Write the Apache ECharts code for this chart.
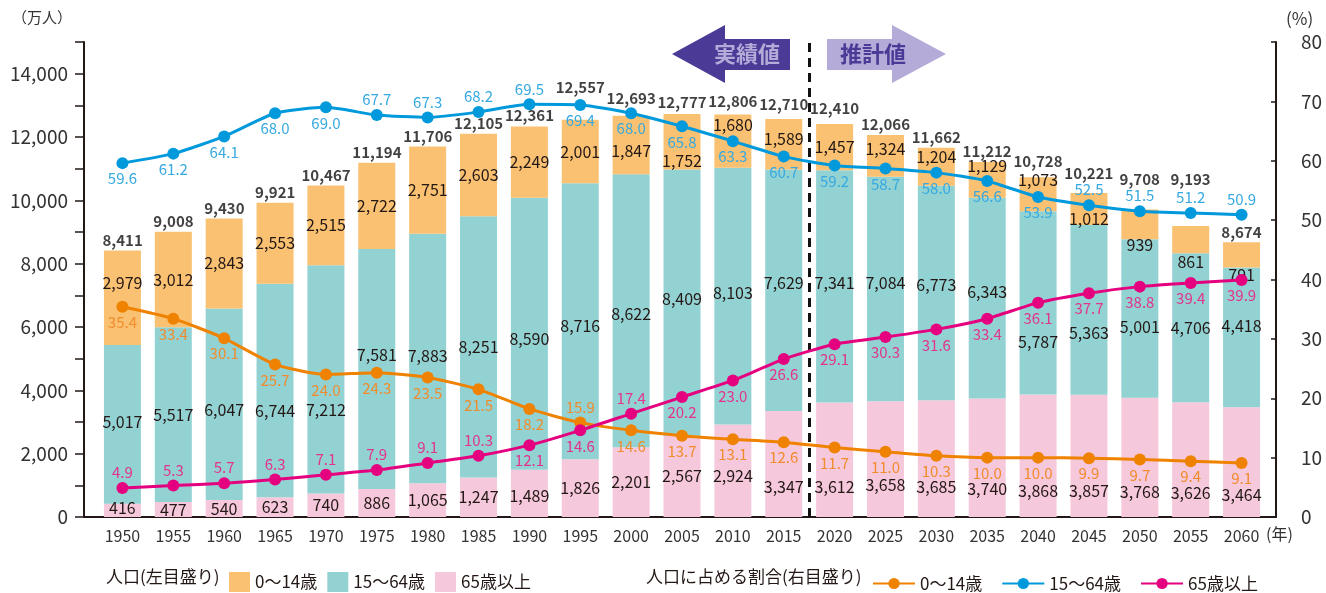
<!DOCTYPE html>
<html>
<head>
<meta charset="utf-8">
<style>
  html, body { margin: 0; padding: 0; background: #fff; }
  #chart { width: 1326px; height: 593px; }
</style>
<script src="https://cdn.jsdelivr.net/npm/echarts/dist/echarts.min.js"></script>
</head>
<body>
<div id="chart"></div>
<script>
// 年
const years = [1950, 1955, 1960, 1965, 1970, 1975, 1980, 1985, 1990, 1995, 2000, 2005,
  2010, 2015, 2020, 2025, 2030, 2035, 2040, 2045, 2050, 2055, 2060];

// 人口（万人）
const pop0to14 = [2979, 3012, 2843, 2553, 2515, 2722, 2751, 2603, 2249, 2001, 1847, 1752,
  1680, 1589, 1457, 1324, 1204, 1129, 1073, 1012, 939, 861, 791];
const pop15to64 = [5017, 5517, 6047, 6744, 7212, 7581, 7883, 8251, 8590, 8716, 8622, 8409,
  8103, 7629, 7341, 7084, 6773, 6343, 5787, 5363, 5001, 4706, 4418];
const pop65plus = [416, 477, 540, 623, 740, 886, 1065, 1247, 1489, 1826, 2201, 2567,
  2924, 3347, 3612, 3658, 3685, 3740, 3868, 3857, 3768, 3626, 3464];
const popTotal = [8411, 9008, 9430, 9921, 10467, 11194, 11706, 12105, 12361, 12557, 12693, 12777,
  12806, 12710, 12410, 12066, 11662, 11212, 10728, 10221, 9708, 9193, 8674];

// 人口に占める割合（%）
const ratio0to14 = [35.4, 33.4, 30.1, 25.7, 24.0, 24.3, 23.5, 21.5, 18.2, 15.9, 14.6, 13.7,
  13.1, 12.6, 11.7, 11.0, 10.3, 10.0, 10.0, 9.9, 9.7, 9.4, 9.1];
const ratio15to64 = [59.6, 61.2, 64.1, 68.0, 69.0, 67.7, 67.3, 68.2, 69.5, 69.4, 68.0, 65.8,
  63.3, 60.7, 59.2, 58.7, 58.0, 56.6, 53.9, 52.5, 51.5, 51.2, 50.9];
const ratio65plus = [4.9, 5.3, 5.7, 6.3, 7.1, 7.9, 9.1, 10.3, 12.1, 14.6, 17.4, 20.2,
  23.0, 26.6, 29.1, 30.3, 31.6, 33.4, 36.1, 37.7, 38.8, 39.4, 39.9];

// label placement tweaks (px shift of labels, years whose ratio label sits above the point)
const shift0to14 = [-15, 0, 0, 0, 0, 0, 0, 0, 0, 0, 6, 19, -16, -5, 0, -7, -10, -14, -14, 10, 20, 22, 20];
const shift15to64 = [-2, 0, 6, 20, 31, -14, -3, 0, 5, 5, 3, -4, -3, -7, -3, -6, -8, -6, 39, 23, 8, 0, -11];
const shift65plus = [-2, 0, 0, 0, 0, 0, 0, 0, 2, 0, 0, 0, 5, 23, 27, 26, 28, 31, 35, 35, 35, 33, 33];
const shiftTotal = [0, 0, 0, 0, 0, 0, 0, 0, 0, -22, -6, 0, 0, 0, -5, 0, 0, 0, -5, -10, -20, -36, 0];
const above0to14 = [1995];
const above15to64 = [1975, 1980, 1985, 1990, 2045, 2050, 2055, 2060];
const above65plus = [1950, 1955, 1960, 1965, 1970, 1975, 1980, 1985, 2000];

const FONT = '"Noto Sans CJK JP", "Noto Sans", sans-serif';
const fmt = (v) => Number(v).toLocaleString('en-US');

const barSeries = (name, color, vals, shift) => ({
  name: name,
  type: 'bar',
  stack: 'pop',
  barWidth: 37,
  itemStyle: { color: color },
  label: {
    show: true,
    position: 'inside',
    color: '#231815',
    fontFamily: FONT,
    fontSize: 16,
    formatter: (p) => fmt(p.value)
  },
  data: vals.map((v, i) => ({ value: v, label: { offset: [0, shift[i]] } })),
  z: 2
});

const lineSeries = (name, color, labelColor, vals, above) => ({
  name: name,
  type: 'line',
  yAxisIndex: 1,
  smooth: 0.2,
  symbol: 'circle',
  symbolSize: 12,
  lineStyle: { color: color, width: 3 },
  itemStyle: { color: color },
  label: {
    show: true,
    distance: 2,
    color: labelColor,
    fontFamily: FONT,
    fontSize: 15,
    formatter: (p) => p.value.toFixed(1)
  },
  data: vals.map((v, i) => ({
    value: v,
    label: { position: above.includes(years[i]) ? 'top' : 'bottom' }
  })),
  z: 5
});

const chart = echarts.init(document.getElementById('chart'));
chart.setOption({
  animation: false,
  textStyle: { fontFamily: FONT },
  grid: [
    // bars and lines: category band
    { left: 97, right: 59, top: 42, bottom: 76 },
    // full frame: bottom axis line, totals, divider
    { left: 84, right: 50, top: 42, bottom: 76 }
  ],
  xAxis: [
    {
      type: 'category',
      gridIndex: 0,
      data: years.map(String),
      axisLine: { show: false },
      axisTick: { show: false },
      axisLabel: { margin: 11, color: '#333', fontSize: 16, fontFamily: FONT }
    },
    {
      type: 'value',
      gridIndex: 1,
      min: 1946.2,
      max: 2063.4,
      axisLine: { lineStyle: { color: '#231815', width: 2 } },
      axisTick: { show: false },
      axisLabel: { show: false },
      splitLine: { show: false }
    }
  ],
  yAxis: [
    {
      type: 'value',
      gridIndex: 0,
      min: 0,
      max: 15000,
      interval: 1000,
      offset: 13,
      axisLine: { show: true, lineStyle: { color: '#231815', width: 2 } },
      axisTick: { show: true, length: 9, lineStyle: { color: '#231815', width: 1.5 } },
      splitLine: { show: false },
      axisLabel: {
        margin: 16,
        color: '#333',
        fontSize: 19,
        fontFamily: FONT,
        formatter: (v) => (v % 2000 === 0 && v <= 14000 ? fmt(v) : '')
      }
    },
    {
      type: 'value',
      gridIndex: 0,
      min: 0,
      max: 80,
      interval: 10,
      position: 'right',
      offset: 9,
      axisLine: { show: true, lineStyle: { color: '#231815', width: 2 } },
      axisTick: { show: true, inside: true, length: 5, lineStyle: { color: '#231815', width: 1.5 } },
      splitLine: { show: false },
      axisLabel: { margin: 25, color: '#333', fontSize: 19, fontFamily: FONT }
    },
    {
      type: 'value',
      gridIndex: 1,
      min: 0,
      max: 15000,
      show: false
    }
  ],
  legend: [
    {
      data: ['人口:0～14歳', '人口:15～64歳', '人口:65歳以上'],
      left: 224,
      top: 567,
      icon: 'rect',
      itemWidth: 21,
      itemHeight: 20,
      itemGap: 10,
      selectedMode: false,
      textStyle: { fontSize: 17, color: '#231815', fontFamily: FONT },
      formatter: (n) => n.split(':')[1]
    },
    {
      data: ['割合:0～14歳', '割合:15～64歳', '割合:65歳以上'],
      left: 867,
      top: 570,
      itemWidth: 42,
      itemHeight: 14,
      itemGap: 19,
      selectedMode: false,
      textStyle: { fontSize: 17, color: '#231815', fontFamily: FONT },
      formatter: (n) => n.split(':')[1]
    }
  ],
  graphic: [
    { type: 'text', left: 12, top: 10, style: { text: '（万人）', fontSize: 15, fill: '#333', fontFamily: FONT } },
    { type: 'text', left: 1286, top: 10, style: { text: '(%)', fontSize: 17, fill: '#333', fontFamily: FONT } },
    { type: 'text', left: 1266, top: 526, style: { text: '(年)', fontSize: 16, fill: '#333', fontFamily: FONT } },
    { type: 'text', left: 106, top: 568, style: { text: '人口(左目盛り)', fontSize: 17, fill: '#231815', fontFamily: FONT } },
    { type: 'text', left: 646, top: 568, style: { text: '人口に占める割合(右目盛り)', fontSize: 17, fill: '#231815', fontFamily: FONT } },
    {
      type: 'polygon',
      shape: { points: [[672, 54], [725, 25], [725, 39], [790, 39], [790, 70], [725, 70], [725, 83]] },
      style: { fill: '#4b3b96' }
    },
    {
      type: 'polygon',
      shape: { points: [[827, 39], [892, 39], [892, 25], [946, 54], [892, 83], [892, 70], [827, 70]] },
      style: { fill: '#b4abd9' }
    },
    {
      type: 'text', x: 747, y: 54,
      style: { text: '実績値', fontSize: 22, fontWeight: 'bold', fill: '#b4abd9', fontFamily: FONT, align: 'center', verticalAlign: 'middle' }
    },
    {
      type: 'text', x: 873, y: 54,
      style: { text: '推計値', fontSize: 22, fontWeight: 'bold', fill: '#4b3b96', fontFamily: FONT, align: 'center', verticalAlign: 'middle' }
    }
  ],
  series: [
    barSeries('人口:65歳以上', '#f6c8dc', pop65plus, shift65plus),
    barSeries('人口:15～64歳', '#93d2d3', pop15to64, shift15to64),
    barSeries('人口:0～14歳', '#f9c171', pop0to14, shift0to14),
    {
      name: 'total',
      type: 'scatter',
      xAxisIndex: 1,
      yAxisIndex: 2,
      symbolSize: 0,
      label: {
        show: true,
        position: 'top',
        distance: 3,
        color: '#111',
        fontWeight: 'bold',
        fontSize: 15,
        fontFamily: FONT,
        formatter: (p) => fmt(p.value[1])
      },
      data: years.map((y, i) => ({ value: [y, popTotal[i]], label: { offset: [0, shiftTotal[i]] } })),
      markLine: {
        silent: true,
        symbol: 'none',
        label: { show: false },
        lineStyle: { color: '#111', type: [9, 6], width: 3 },
        data: [{ xAxis: 2017.5 }]
      },
      z: 3
    },
    lineSeries('割合:0～14歳', '#ef8200', '#f08c2c', ratio0to14, above0to14),
    lineSeries('割合:15～64歳', '#0099dc', '#36a9e1', ratio15to64, above15to64),
    lineSeries('割合:65歳以上', '#e4007f', '#e3338d', ratio65plus, above65plus)
  ]
});
</script>
</body>
</html>
